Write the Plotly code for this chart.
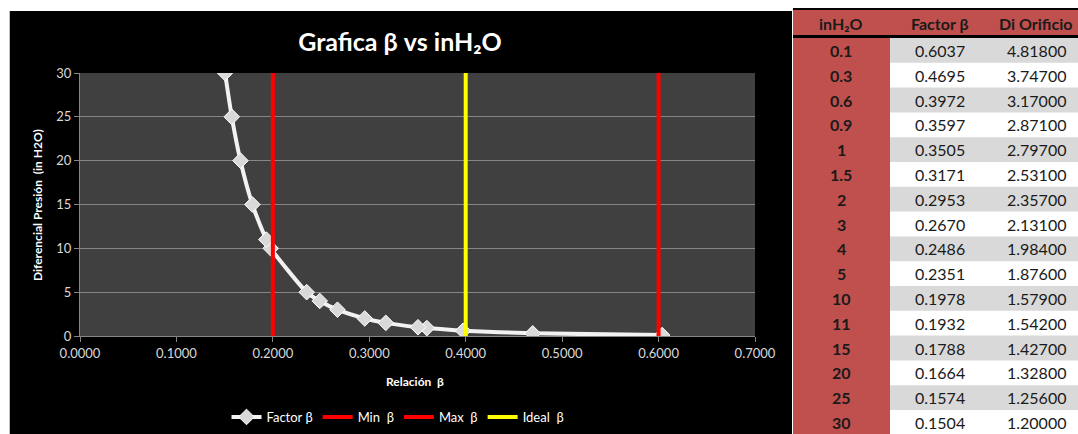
import plotly.graph_objects as go

# ---- data ----
inh2o = [0.1, 0.3, 0.6, 0.9, 1, 1.5, 2, 3, 4, 5, 10, 11, 15, 20, 25, 30]
factor_beta = [0.6037, 0.4695, 0.3972, 0.3597, 0.3505, 0.3171, 0.2953, 0.2670,
               0.2486, 0.2351, 0.1978, 0.1932, 0.1788, 0.1664, 0.1574, 0.1504]
di_orificio = [4.818, 3.747, 3.170, 2.871, 2.797, 2.531, 2.357, 2.131,
               1.984, 1.876, 1.579, 1.542, 1.427, 1.328, 1.256, 1.200]
min_beta = 0.2
max_beta = 0.6
ideal_beta = 0.4
ref_y = [0, 30]
x_ticks = [0, 0.1, 0.2, 0.3, 0.4, 0.5, 0.6, 0.7]
y_ticks = [0, 5, 10, 15, 20, 25, 30]
table_headers = ["inH₂O", "Factor β", "Di Orificio"]

W, H = 1078, 434
FONT = "Lato, Carlito, Calibri, sans-serif"
RED = "#c0504d"
GRAY = "#d9d9d9"

def px_x(p):
    return p / W

def px_y(p):
    return 1 - p / H

fig = go.Figure()

fig.add_trace(go.Scatter(
    x=factor_beta, y=inh2o, name="Factor β", mode="lines+markers",
    line=dict(color="#f2f2f2", width=4, shape="spline", smoothing=0.6),
    marker=dict(symbol="diamond", size=12, color="#d9d9d9",
                line=dict(color="#ffffff", width=1)),
))
fig.add_trace(go.Scatter(x=[min_beta, min_beta], y=ref_y, name="Min  β", mode="lines",
                         line=dict(color="#ff0000", width=4)))
fig.add_trace(go.Scatter(x=[max_beta, max_beta], y=ref_y, name="Max  β", mode="lines",
                         line=dict(color="#ff0000", width=4)))
fig.add_trace(go.Scatter(x=[ideal_beta, ideal_beta], y=ref_y, name="Ideal  β", mode="lines",
                         line=dict(color="#ffff00", width=4)))

def prect(x0, x1, y0, y1, color):
    return dict(type="rect", xref="paper", yref="paper",
                x0=px_x(x0), x1=px_x(x1), y0=px_y(y1), y1=px_y(y0),
                fillcolor=color, line=dict(width=0), layer="below")

shapes = [
    prect(0, 10, 0, H, "#ffffff"),
    prect(0, W, 0, 11, "#ffffff"),
    prect(9, 10, 11, H, "#bfbfbf"),
    # table
    prect(792, W, 0, H, "#ffffff"),
    prect(793, W, 8, 38, "#000000"),
    prect(793, W, 10, 35, RED),
    prect(793, 890, 38, H, RED),
]

# table geometry (pixels)
row_top = 38
row_h = 24.8
col_c1 = 841
col_c2 = 940
col_r3 = 1068
annotations = []
n = len(inh2o)
for i in range(n):
    y0 = row_top + i * row_h
    yc = y0 + row_h / 2
    if i % 2 == 0:
        shapes.append(prect(890, W, y0, y0 + row_h, GRAY))
    annotations.append(dict(text=f"<b>{inh2o[i]:g}</b>", x=px_x(col_c1), y=px_y(yc),
                            xanchor="center", yanchor="middle"))
    annotations.append(dict(text=f"{factor_beta[i]:.4f}", x=px_x(col_c2), y=px_y(yc),
                            xanchor="center", yanchor="middle"))
    annotations.append(dict(text=f"{di_orificio[i]:.5f}", x=px_x(col_r3), y=px_y(yc),
                            xanchor="right", yanchor="middle"))
hdr_x = [841, 940, 1035]
for hx, ht in zip(hdr_x, table_headers):
    annotations.append(dict(text=f"<b>{ht}</b>", x=px_x(hx), y=px_y(23),
                            xanchor="center", yanchor="middle"))
for a in annotations:
    a.update(xref="paper", yref="paper", showarrow=False,
             font=dict(family=FONT, size=16, color="#1a1a1a"))

annotations += [
    dict(text="<b>Relación  β</b>", x=px_x(415), y=px_y(381), xref="paper", yref="paper",
         showarrow=False, xanchor="center", yanchor="middle",
         font=dict(family=FONT, size=12, color="#ffffff")),
    dict(text="<b>Diferencial Presión  (in H2O)</b>", x=px_x(37), y=px_y(205),
         xref="paper", yref="paper", showarrow=False, textangle=-90,
         xanchor="center", yanchor="middle",
         font=dict(family=FONT, size=12, color="#ffffff")),
]

fig.update_layout(
    width=W, height=H,
    margin=dict(l=0, r=0, t=0, b=0, autoexpand=False),
    paper_bgcolor="#000000",
    plot_bgcolor="#404040",
    font=dict(family=FONT, color="#ffffff"),
    showlegend=True,
    legend=dict(orientation="h", x=px_x(398), xanchor="center", y=px_y(417), yanchor="middle",
                font=dict(family=FONT, size=13, color="#ffffff"), bgcolor="rgba(0,0,0,0)",
                itemwidth=30),
    title=dict(text="<b>Grafica β vs inH₂O</b>", x=px_x(400), xanchor="center",
               xref="paper", y=px_y(42), yref="paper", yanchor="middle",
               font=dict(family=FONT, size=25, color="#ffffff")),
    xaxis=dict(domain=[px_x(80), px_x(755)], range=[0, 0.7], tickvals=x_ticks,
               tickformat=".4f", showgrid=False, zeroline=False,
               showline=True, linecolor="#868686", linewidth=1,
               ticks="outside", ticklen=5, tickcolor="#868686",
               tickfont=dict(family=FONT, size=13, color="#d9d9d9")),
    yaxis=dict(domain=[px_y(336), px_y(73)], range=[0, 30], tickvals=y_ticks,
               showgrid=True, gridcolor="#868686", gridwidth=1, zeroline=False,
               showline=True, linecolor="#868686", linewidth=1,
               ticks="outside", ticklen=5, tickcolor="#868686",
               tickfont=dict(family=FONT, size=13, color="#d9d9d9")),
    shapes=shapes,
    annotations=annotations,
)

fig.write_html("out.html", config={"displayModeBar": False},
               post_script="document.body.style.margin='0px';document.body.style.overflow='hidden';")
